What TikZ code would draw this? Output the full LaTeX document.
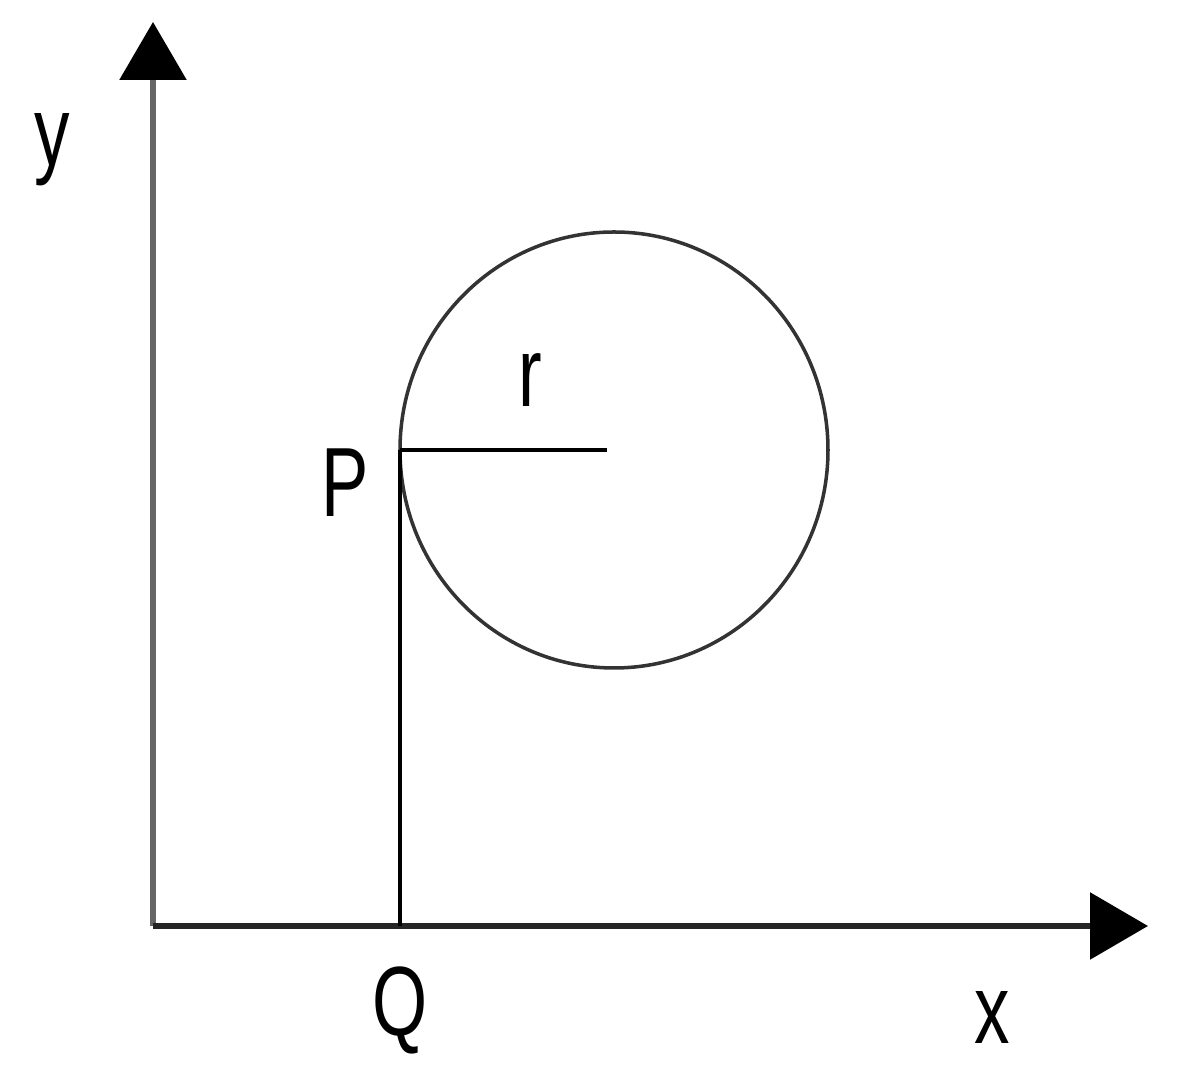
\documentclass[tikz,border=0pt]{standalone}
\usepackage{fontspec}
\setmainfont[FakeStretch=0.72]{Liberation Sans}
\usetikzlibrary{calc}
\usetikzlibrary{arrows.meta}
\usetikzlibrary{positioning}
\tikzset{>=latex}
\tikzstyle{axis} = [-{Triangle[length=0.58cm, width=0.66cm, color=black]}, line width=1.7pt]
\tikzstyle{lbl} = [draw=none, inner sep = 0, font=\fontsize{28}{30}\selectfont]

\begin{document}
\begin{tikzpicture}
\useasboundingbox (0, 0) rectangle (12, 10.71);
\coordinate (O) at (1.53, 1.45);
\coordinate (Yt) at (1.53, 10.49);
\coordinate (Xt) at (11.48, 1.45);
\coordinate (C) at (6.14, 6.21);
\coordinate (P) at (4.0, 6.21);
\coordinate (R) at (6.07, 6.21);
\coordinate (Q) at (4.0, 1.45);
\draw [axis, draw = black!60] (O) to (Yt);
\draw [axis, draw = black!85] (O) to (Xt);
\draw [line width=1pt, draw = black!80] (C) ellipse [x radius=2.14, y radius=2.18];
\draw [line width=1.1pt, draw = black] (P) to (R);
\draw [line width=1.1pt, draw = black] (P) to (Q);
\node [lbl] (ylbl) at (0.52, 9.21) {y};
\node [lbl] (plbl) at (3.45, 5.88) {P};
\node [lbl] (rlbl) at (5.30, 6.91) {r};
\node [lbl] (qlbl) at (4.00, 0.61) {Q};
\node [lbl] (xlbl) at (9.92, 0.53) {x};
\end{tikzpicture}
\end{document}
